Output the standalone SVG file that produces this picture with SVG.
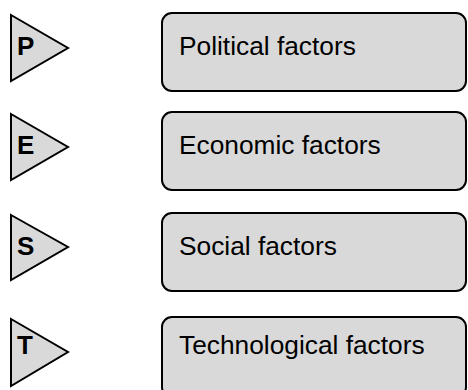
<svg xmlns="http://www.w3.org/2000/svg" width="468" height="390" viewBox="0 0 468 390">
<style>
.tri{fill:#d9d9d9;stroke:#000;stroke-width:2;stroke-linejoin:miter}
.box{fill:#d9d9d9;stroke:#000;stroke-width:2}
.letter{font-family:"Liberation Sans",Arial,sans-serif;font-size:26px;font-weight:bold;fill:#000}
.label{font-family:"Liberation Sans",Arial,sans-serif;font-size:26.3px;fill:#000}
</style>
<rect width="468" height="390" fill="#fff"/>
<g id="node-P">
<polygon class="tri" points="11,15 68,48 11,81"/>
<text class="letter" x="17" y="55">P</text>
</g>
<g id="box-P">
<rect class="box" x="162" y="13" width="304" height="78" rx="10"/>
<text class="label" x="179" y="55">Political factors</text>
</g>
<g id="node-E">
<polygon class="tri" points="11,114 68,147 11,180"/>
<text class="letter" x="17" y="154">E</text>
</g>
<g id="box-E">
<rect class="box" x="162" y="112" width="304" height="78" rx="10"/>
<text class="label" x="179" y="154">Economic factors</text>
</g>
<g id="node-S">
<polygon class="tri" points="11,215 68,247 11,280"/>
<text class="letter" x="17" y="255">S</text>
</g>
<g id="box-S">
<rect class="box" x="162" y="213" width="304" height="78" rx="10"/>
<text class="label" x="179" y="255">Social factors</text>
</g>
<g id="node-T">
<polygon class="tri" points="11,319 68,352 11,386"/>
<text class="letter" x="17" y="354">T</text>
</g>
<g id="box-T">
<rect class="box" x="162" y="317" width="304" height="80" rx="10"/>
<text class="label" x="179" y="354">Technological factors</text>
</g>
<g id="connectors"></g>
</svg>
